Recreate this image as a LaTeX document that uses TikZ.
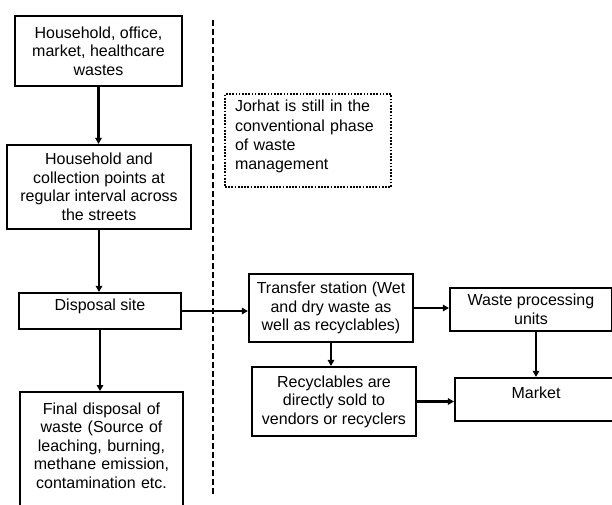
\documentclass[tikz,border=0pt]{standalone}
\usepackage{fontspec}
\setmainfont{Liberation Sans}
\usetikzlibrary{arrows.meta}

\tikzset{
  wastebox/.style={draw, line width=2.2pt, align=center, inner sep=2pt, font=\fontsize{16}{18.5}\selectfont},
  notebox/.style={draw, line width=1.8pt, dash pattern=on 1.7pt off 1.5pt, align=left, inner sep=2pt, font=\fontsize{16}{19.2}\selectfont},
  flow/.style={line width=2.2pt, -{Triangle[length=6pt,width=6.5pt]}},
  divider/.style={line width=2.2pt, dash pattern=on 6pt off 3pt},
}

\begin{document}
\begin{tikzpicture}[x=1pt,y=-1pt]
  \clip (0,0) rectangle (612,504);

  \node [wastebox, minimum width=167, minimum height=70] (sources) at (98.5,51) {Household, office,\\market, healthcare\\wastes};
  \node [wastebox, minimum width=184, minimum height=84] (collection) at (99,187) {Household and\\collection points at\\regular interval across\\the streets};
  \node [wastebox, minimum width=162, minimum height=36, text height=11.5pt, text depth=13pt] (disposal) at (100,311) {Disposal site};
  \node [wastebox, anchor=north, minimum width=163, text width=150, text height=20pt, text depth=120pt] (final) at (101.5,391) {Final disposal of\\waste (Source of\\leaching, burning,\\methane emission,\\contamination etc.};

  \node [notebox, minimum width=166, minimum height=93, text width=146, text height=11.7pt, text depth=69pt] (note) at (308,140.5) {Jorhat is still in the\\conventional phase\\of waste\\management};

  \node [wastebox, minimum width=164, minimum height=68] (transfer) at (331,308) {Transfer station (Wet\\and dry waste as\\well as recyclables)};
  \node [wastebox, minimum width=162, minimum height=43] (processing) at (531,309.5) {Waste processing\\units};
  \node [wastebox, minimum width=164, minimum height=69] (recyclers) at (334,401.5) {Recyclables are\\directly sold to\\vendors or recyclers};
  \node [wastebox, minimum width=162, minimum height=43, text height=11.5pt, text depth=13pt] (market) at (536,399.5) {Market};

  \coordinate (divtop) at (213,20);
  \coordinate (divbot) at (213,495);
  \draw [divider] (divtop) -- (divbot);

  \draw [flow] (sources.south) -- (sources.south |- collection.north);
  \draw [flow] (collection.south) -- (collection.south |- disposal.north);
  \draw [flow] (disposal.south) -- (disposal.south |- final.north);
  \draw [flow] (disposal.east) -- (disposal.east -| transfer.west);
  \draw [flow] (transfer.east) -- (transfer.east -| processing.west);
  \draw [flow] (transfer.south) -- (transfer.south |- recyclers.north);
  \draw [flow] (market.north |- processing.south) -- (market.north);
  \draw [flow] (recyclers.east) -- (recyclers.east -| market.west);

\end{tikzpicture}
\end{document}
